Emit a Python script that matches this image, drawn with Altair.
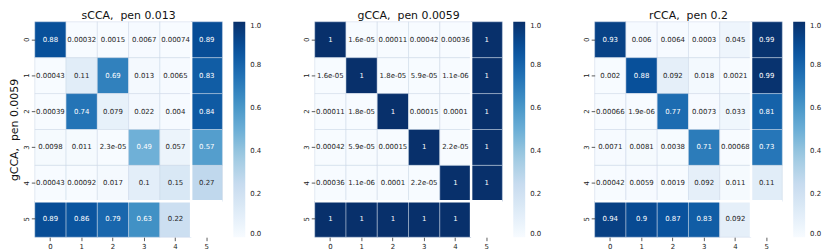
import altair as alt
import pandas as pd
import math

NAN = float("nan")
idx = [0, 1, 2, 3, 4, 5]

scca_vals = [
    [0.88, 0.00032, 0.0015, 0.0067, 0.00074, 0.89],
    [0.00043, 0.11, 0.69, 0.013, 0.0065, 0.83],
    [0.00039, 0.74, 0.079, 0.022, 0.004, 0.84],
    [0.0098, 0.011, 2.3e-05, 0.49, 0.057, 0.57],
    [0.00043, 0.00092, 0.017, 0.1, 0.15, 0.27],
    [0.89, 0.86, 0.79, 0.63, 0.22, NAN],
]
gcca_vals = [
    [1, 1.6e-05, 0.00011, 0.00042, 0.00036, 1],
    [1.6e-05, 1, 1.8e-05, 5.9e-05, 1.1e-06, 1],
    [0.00011, 1.8e-05, 1, 0.00015, 0.0001, 1],
    [0.00042, 5.9e-05, 0.00015, 1, 2.2e-05, 1],
    [0.00036, 1.1e-06, 0.0001, 2.2e-05, 1, 1],
    [1, 1, 1, 1, 1, NAN],
]
rcca_vals = [
    [0.93, 0.006, 0.0064, 0.0003, 0.045, 0.99],
    [0.002, 0.88, 0.092, 0.018, 0.0021, 0.99],
    [0.00066, 1.9e-06, 0.77, 0.0073, 0.033, 0.81],
    [0.0071, 0.0081, 0.0038, 0.71, 0.00068, 0.73],
    [0.00042, 0.0059, 0.0019, 0.092, 0.011, 0.11],
    [0.94, 0.9, 0.87, 0.83, 0.092, NAN],
]
# titles keep the double space of the original (non-breaking so SVG keeps it)
titles = ["sCCA,\u00a0 pen 0.013", "gCCA,\u00a0 pen 0.0059", "rCCA,\u00a0 pen 0.2"]
ytitle = "gCCA,\u00a0 pen 0.0059"

blues = ["#f7fbff", "#deebf7", "#c6dbef", "#9ecae1", "#6baed6",
         "#4292c6", "#2171b5", "#08519c", "#08306b"]
blues_dom = [i / 8 for i in range(9)]

FONT = "DejaVu Sans"
W, H = 189, 217


def panel(vals, title, show_ytitle):
    recs = []
    for r in idx:
        for c in idx:
            v = vals[r][c]
            if v is None or (isinstance(v, float) and math.isnan(v)):
                continue
            recs.append({"row": r, "col": c, "val": v,
                         "label": format(v, ".2g")})
    df = pd.DataFrame(recs)
    xs = alt.Scale(domain=idx, paddingInner=0, paddingOuter=0)
    ys = alt.Scale(domain=idx, paddingInner=0, paddingOuter=0)
    xaxis = alt.Axis(title=None, labelAngle=0, domain=False, tickSize=3.5,
                     tickWidth=0.8, tickColor="#333", labelFontSize=7,
                     labelPadding=2, labelColor="#222", labelFont=FONT)
    yaxis = alt.Axis(title=ytitle if show_ytitle else None, labelAngle=270,
                     labelAlign="center", labelBaseline="bottom",
                     domain=False, tickSize=3.5, tickWidth=0.8, tickColor="#333",
                     labelFontSize=7, labelPadding=2, labelColor="#222",
                     labelFont=FONT, titleFont=FONT, titleFontSize=11,
                     titleFontWeight="normal", titlePadding=3, titleColor="#111")
    base = alt.Chart(df)
    rect = base.mark_rect(stroke="#c8d5e6", strokeWidth=0.6, strokeOpacity=0.8).encode(
        x=alt.X("col:O", scale=xs, axis=xaxis),
        y=alt.Y("row:O", scale=ys, axis=yaxis),
        color=alt.Color("val:Q",
                        scale=alt.Scale(domain=blues_dom, range=blues, interpolate="rgb"),
                        legend=alt.Legend(title=None, gradientLength=H, gradientThickness=12,
                                          values=[0, 0.2, 0.4, 0.6, 0.8, 1.0], format=".1f",
                                          labelFontSize=7, labelFont=FONT, labelColor="#222",
                                          offset=11, direction="vertical",
                                          gradientStrokeWidth=0, labelOffset=5)),
    )
    text = base.mark_text(fontSize=7, font=FONT).encode(
        x=alt.X("col:O", scale=xs),
        y=alt.Y("row:O", scale=ys),
        text="label:N",
        color=alt.condition(alt.datum.val > 0.45, alt.value("white"), alt.value("#262626")),
    )
    sep = pd.DataFrame({"pos": [5]})
    vrule = alt.Chart(sep).mark_rule(color="white", strokeWidth=2.5).encode(
        x=alt.X("pos:O", scale=xs, bandPosition=0))
    hrule = alt.Chart(sep).mark_rule(color="white", strokeWidth=2.5).encode(
        y=alt.Y("pos:O", scale=ys, bandPosition=0))
    return alt.layer(rect, text, vrule, hrule).properties(
        width=W, height=H,
        title=alt.TitleParams(title, fontSize=11, font=FONT, fontWeight="normal",
                              offset=0, color="#111"))


charts = [panel(scca_vals, titles[0], True),
          panel(gcca_vals, titles[1], False),
          panel(rcca_vals, titles[2], False)]

chart = alt.hconcat(*charts, spacing=40).resolve_scale(color="independent").properties(
    padding=0
).configure_view(stroke=None)

chart.save("out.html", embed_options={"renderer": "svg", "actions": False})
